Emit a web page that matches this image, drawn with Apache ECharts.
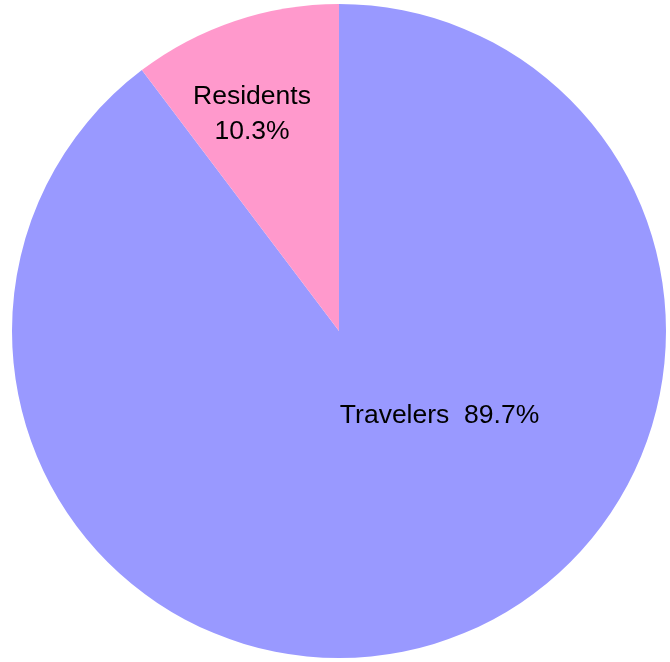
<!DOCTYPE html>
<html>
<head>
<meta charset="utf-8">
<script src="https://cdn.jsdelivr.net/npm/echarts@6/dist/echarts.min.js"></script>
<style>
html,body{margin:0;padding:0;background:#fff;}
#chart{width:670px;height:662px;}
</style>
</head>
<body>
<div id="chart"></div>
<script>
var categories = ['Travelers', 'Residents'];
var values = [89.7, 10.3];
var labelTexts = ['Travelers  89.7%', 'Residents\n10.3%'];
var colors = ['#9999FF', '#FF99CC'];

var chart = echarts.init(document.getElementById('chart'), null, {renderer: 'canvas'});
var cx = 339, cy = 331, R = 327;
// label anchor: fraction of radius and angle (deg clockwise from top)
var labelPos = [{f: 0.4025, a: 130.2}, {f: 0.715, a: 338.15}];

var data = categories.map(function (c, i) {
  return {name: c, value: values[i], itemStyle: {color: colors[i]},
          label: {formatter: labelTexts[i]}};
});

chart.setOption({
  animation: false,
  series: [{
    type: 'pie',
    center: [cx, cy],
    radius: [0, R],
    startAngle: 90,
    clockwise: true,
    data: data,
    itemStyle: {borderWidth: 0},
    label: {
      show: true,
      position: 'inside',
      color: '#000',
      fontFamily: 'Liberation Sans, Arial, sans-serif',
      fontSize: 26.5,
      lineHeight: 35,
      align: 'center'
    },
    labelLine: {show: false},
    labelLayout: function (p) {
      var lp = labelPos[p.dataIndex];
      var ang = lp.a * Math.PI / 180;
      return {
        x: cx + R * lp.f * Math.sin(ang),
        y: cy - R * lp.f * Math.cos(ang),
        align: 'center',
        verticalAlign: 'middle'
      };
    }
  }]
});
</script>
</body>
</html>
